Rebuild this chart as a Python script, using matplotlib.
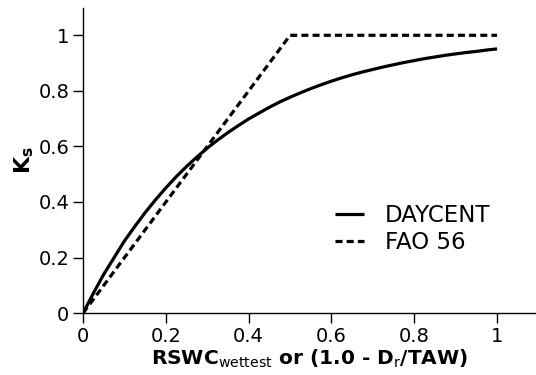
import matplotlib
matplotlib.use("Agg")
import matplotlib.pyplot as plt

# DAYCENT curve
daycent_x = [0.0, 0.025, 0.05, 0.075, 0.1, 0.125, 0.15, 0.175, 0.2, 0.225,
             0.25, 0.275, 0.3, 0.325, 0.35, 0.375, 0.4, 0.425, 0.45, 0.475,
             0.5, 0.525, 0.55, 0.575, 0.6, 0.625, 0.65, 0.675, 0.7, 0.725,
             0.75, 0.775, 0.8, 0.825, 0.85, 0.875, 0.9, 0.925, 0.95, 0.975, 1.0]
daycent_y = [0.0, 0.072, 0.14, 0.20, 0.26, 0.312, 0.362, 0.408, 0.451, 0.491,
             0.528, 0.562, 0.594, 0.623, 0.65, 0.675, 0.699, 0.72, 0.741, 0.76,
             0.777, 0.793, 0.808, 0.822, 0.835, 0.847, 0.858, 0.868, 0.877, 0.886,
             0.894, 0.902, 0.909, 0.916, 0.922, 0.928, 0.933, 0.938, 0.942, 0.947, 0.951]
# FAO 56
fao_x = [0.0, 0.5, 1.0]
fao_y = [0.0, 1.0, 1.0]

xticks = [0, 0.2, 0.4, 0.6, 0.8, 1]
xticklabels = ["0", "0.2", "0.4", "0.6", "0.8", "1"]
yticks = [0, 0.2, 0.4, 0.6, 0.8, 1]
yticklabels = ["0", "0.2", "0.4", "0.6", "0.8", "1"]

fig = plt.figure(figsize=(5.36, 3.75), dpi=100)
ax = fig.add_axes([0.155, 0.165, 0.845, 0.815])

ax.plot(daycent_x, daycent_y, color="black", lw=2.3, label="DAYCENT",
        solid_capstyle="butt", solid_joinstyle="round")
ax.plot(fao_x, fao_y, color="black", lw=2.3, dashes=(2.2, 1.3), label="FAO 56")

ax.set_xlim(0, 1.094)
ax.set_ylim(0, 1.1)
for s in ["top", "right"]:
    ax.spines[s].set_visible(False)
for s in ["left", "bottom"]:
    ax.spines[s].set_linewidth(1.0)

ax.set_xticks(xticks)
ax.set_xticklabels(xticklabels)
ax.set_yticks(yticks)
ax.set_yticklabels(yticklabels)
ax.tick_params(axis="both", direction="out", length=7, width=1.0,
               labelsize=14, pad=3)

ax.set_xlabel(r"RSWC$_{\mathrm{wettest}}$ or (1.0 - D$_{\mathrm{r}}$/TAW)",
              fontsize=14.5, fontweight="bold", labelpad=1)
ax.set_ylabel(r"K$_{\mathbf{s}}$", fontsize=16, fontweight="bold", labelpad=2)

leg = ax.legend(loc="lower right", bbox_to_anchor=(0.945, 0.125), frameon=False,
                fontsize=16.5, handlelength=1.3, handletextpad=0.9,
                labelspacing=0.2)

fig.savefig("out.png", dpi=100)
